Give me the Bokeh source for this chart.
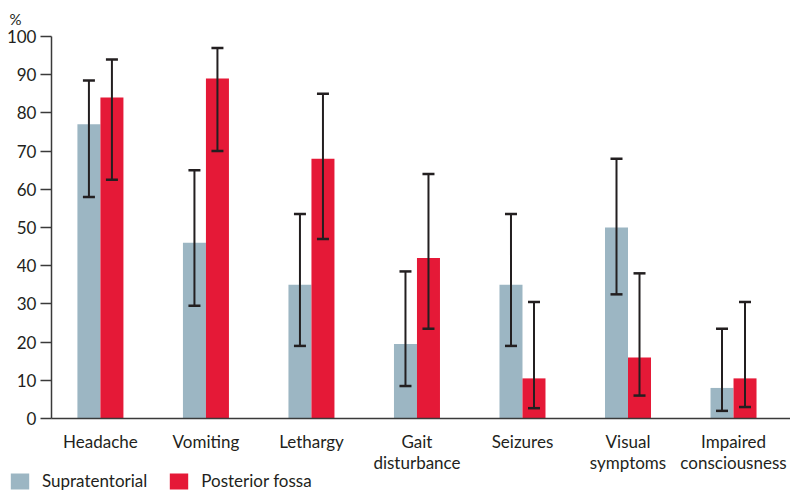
from bokeh.plotting import figure
from bokeh.models import (ColumnDataSource, Range1d, FixedTicker, Whisker, TeeHead,
                          Legend, LegendItem, Label)
from bokeh.embed import file_html
from bokeh.resources import INLINE
import numpy as np

# Symptom frequency (%) by tumour location, with 95% confidence limits
categories = ["Headache", "Vomiting", "Lethargy", "Gait\ndisturbance", "Seizures",
              "Visual\nsymptoms", "Impaired\nconsciousness"]
series = ["Supratentorial", "Posterior fossa"]
supra = [77, 46, 35, 19.5, 35, 50, 8]
supra_lo = [58, 29.5, 19, 8.5, 19, 32.5, 2]
supra_hi = [88.5, 65, 53.5, 38.5, 53.5, 68, 23.5]
post = [84, 89, 68, 42, 10.5, 16, 10.5]
post_lo = [62.5, 70, 47, 23.5, 2.7, 6, 3]
post_hi = [94, 97, 85, 64, 30.5, 38, 30.5]
y_ticks = [0, 10, 20, 30, 40, 50, 60, 70, 80, 90, 100]

FONT = "Lato"
TEXT = "#231f20"
AXIS = "#3a3a3a"
BLUE = "#9cb6c3"
RED = "#e51937"
W = 0.218
X0, X1 = -0.464, 6.54      # extent of the category axis

x = np.arange(len(categories))
src = ColumnDataSource(dict(
    xs=x - W / 2, xp=x + W / 2,
    supra=supra, supra_lo=supra_lo, supra_hi=supra_hi,
    post=post, post_lo=post_lo, post_hi=post_hi,
))

# the frame fills the canvas; axes are pinned inside it so the legend and
# unit marker have room around them
p = figure(width=790, height=491, output_backend="svg", toolbar_location=None,
           x_range=Range1d(-0.947, X1), y_range=Range1d(-19.11, 109.42),
           min_border=0)
p.outline_line_color = None
p.grid.visible = False

r1 = p.vbar(x="xs", top="supra", width=W, source=src, fill_color=BLUE, line_color=None)
r2 = p.vbar(x="xp", top="post", width=W, source=src, fill_color=RED, line_color=None)

for base, lo, hi in (("xs", "supra_lo", "supra_hi"), ("xp", "post_lo", "post_hi")):
    wk = Whisker(base=base, lower=lo, upper=hi, source=src, dimension="height",
                 level="overlay", line_color=TEXT, line_width=2,
                 upper_head=TeeHead(size=12, line_color=TEXT, line_width=2.5),
                 lower_head=TeeHead(size=12, line_color=TEXT, line_width=2.5))
    p.add_layout(wk)

# value axis
p.yaxis.fixed_location = X0
p.yaxis.bounds = (0, 100)
p.yaxis.ticker = FixedTicker(ticks=y_ticks)
p.yaxis.minor_tick_line_color = None
p.yaxis.major_tick_out = 11
p.yaxis.major_tick_in = 0
p.yaxis.major_label_standoff = 4
p.yaxis.axis_line_color = AXIS
p.yaxis.axis_line_width = 1.5
p.yaxis.major_tick_line_color = AXIS
p.yaxis.major_tick_line_width = 1.5
p.yaxis.major_label_text_font = FONT
p.yaxis.major_label_text_font_size = "17px"
p.yaxis.major_label_text_color = TEXT

# category axis
p.xaxis.fixed_location = 0
p.xaxis.bounds = (X0, X1)
p.xaxis.ticker = FixedTicker(ticks=list(x))
p.xaxis.major_label_overrides = {int(i): c for i, c in zip(x, categories)}
p.xaxis.major_tick_line_color = None
p.xaxis.minor_tick_line_color = None
p.xaxis.axis_line_color = AXIS
p.xaxis.axis_line_width = 1.5
p.xaxis.major_label_standoff = 7
p.xaxis.major_label_text_font = FONT
p.xaxis.major_label_text_font_size = "17px"
p.xaxis.major_label_text_color = TEXT
p.xaxis.major_label_text_line_height = 1.0

# "%" unit marker above the value axis
p.add_layout(Label(x=X0, y=100, x_offset=-42, y_offset=17, text="%",
                   text_font=FONT, text_font_size="15px", text_color=TEXT,
                   text_baseline="alphabetic", text_align="left"))

legend = Legend(items=[LegendItem(label=series[0], renderers=[r1]),
                       LegendItem(label=series[1], renderers=[r2])],
                location=(8, 0), orientation="horizontal",
                padding=0, margin=0, spacing=20, label_standoff=11,
                glyph_width=23, glyph_height=20,
                label_text_font=FONT, label_text_font_size="17px",
                label_text_color=TEXT, background_fill_alpha=0,
                border_line_color=None)
p.add_layout(legend, "center")

open("out.html", "w").write(file_html(p, INLINE))
